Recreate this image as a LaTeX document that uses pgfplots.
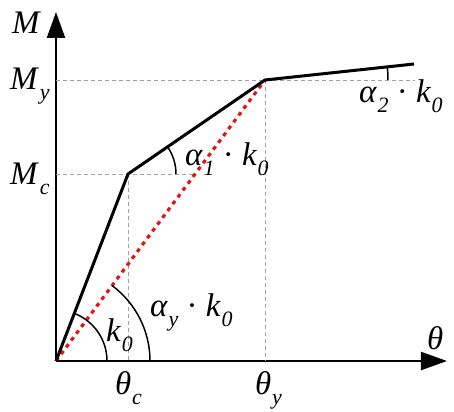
\documentclass[border=0pt]{standalone}
\usepackage{pgfplots}
\pgfplotsset{compat=1.18}
\usepackage{fontspec}
\setmainfont{Liberation Serif}
\usetikzlibrary{arrows.meta}
\definecolor{redline}{RGB}{228,20,20}
\definecolor{guide}{RGB}{160,160,160}
\newcommand{\iv}[1]{\textit{#1}}
\newcommand{\sub}[1]{\raisebox{-0.32em}{\fontsize{22}{24}\selectfont\textit{#1}}}
\newcommand{\sym}[2]{\iv{#1}\kern0.02em\sub{#2}}
\newcommand{\lab}{\fontsize{33}{38}\selectfont}

\begin{document}
\begin{tikzpicture}
\begin{axis}[
    x=1bp, y=1bp,
    xmin=0, xmax=391, ymin=0, ymax=349,
    axis lines=middle,
    axis line style={line width=2.2bp, -{Triangle[length=26bp,width=18bp]}},
    xtick=\empty, ytick=\empty,
    clip=false,
]
\coordinate (O) at (axis cs:0,0);

% guide lines
\addplot[guide, line width=0.9bp, dash pattern=on 4bp off 3bp] coordinates {(0,187) (138,187)};
\addplot[guide, line width=0.9bp, dash pattern=on 4bp off 3bp] coordinates {(0,281) (359,281)};
\addplot[guide, line width=0.9bp, dash pattern=on 4bp off 3bp] coordinates {(72,187) (72,0)};
\addplot[guide, line width=0.9bp, dash pattern=on 4bp off 3bp] coordinates {(209,281) (209,0)};

% secant
\addplot[redline, line width=3.2bp, dash pattern=on 4bp off 4.5bp] coordinates {(0,0) (209,281)};

% trilinear curve
\addplot[black, line width=3bp] coordinates {(0,0) (72,187) (209,281) (358,297)};

% angle arcs
\draw[line width=1.5bp] (axis cs:0,0) ++(0:51bp) arc[start angle=0, end angle=68.9, radius=51bp];
\draw[line width=1.5bp] (axis cs:0,0) ++(0:94bp) arc[start angle=0, end angle=53.4, radius=94bp];
\draw[line width=1.5bp] (axis cs:72,187) ++(0:48bp) arc[start angle=0, end angle=34.5, radius=48bp];
\draw[line width=1.5bp] (axis cs:209,281) ++(0:123bp) arc[start angle=0, end angle=6.1, radius=123bp];

% labels
\node[anchor=base west, inner sep=0pt, font=\lab] at (axis cs:-44,328) {\iv{M}};
\node[anchor=base west, inner sep=0pt, font=\lab] at (axis cs:-46,272) {\sym{M}{y}};
\node[anchor=base west, inner sep=0pt, font=\lab] at (axis cs:-46,177) {\sym{M}{c}};
\node[anchor=base west, inner sep=0pt, font=\lab] at (axis cs:371,12) {\iv{θ}};
\node[anchor=base west, inner sep=0pt, font=\lab] at (axis cs:59,-33) {\sym{θ}{c}};
\node[anchor=base west, inner sep=0pt, font=\lab] at (axis cs:199,-33) {\sym{θ}{y}};
\node[anchor=base west, inner sep=0pt, font=\lab] at (axis cs:50,20) {\sym{k}{0}};
\node[anchor=base west, inner sep=0pt, font=\lab] at (axis cs:94,45) {\sym{α}{y} · \sym{k}{0}};
\node[anchor=base west, inner sep=0pt, font=\lab] at (axis cs:129,196) {\sym{α}{1} · \sym{k}{0}};
\node[anchor=base west, inner sep=0pt, font=\lab] at (axis cs:303,259) {\sym{α}{2} · \sym{k}{0}};
\end{axis}
\pgfresetboundingbox
\path[use as bounding box] ([shift={(-56bp,-51bp)}]O) rectangle ([shift={(398bp,361bp)}]O);
\end{tikzpicture}
\end{document}
